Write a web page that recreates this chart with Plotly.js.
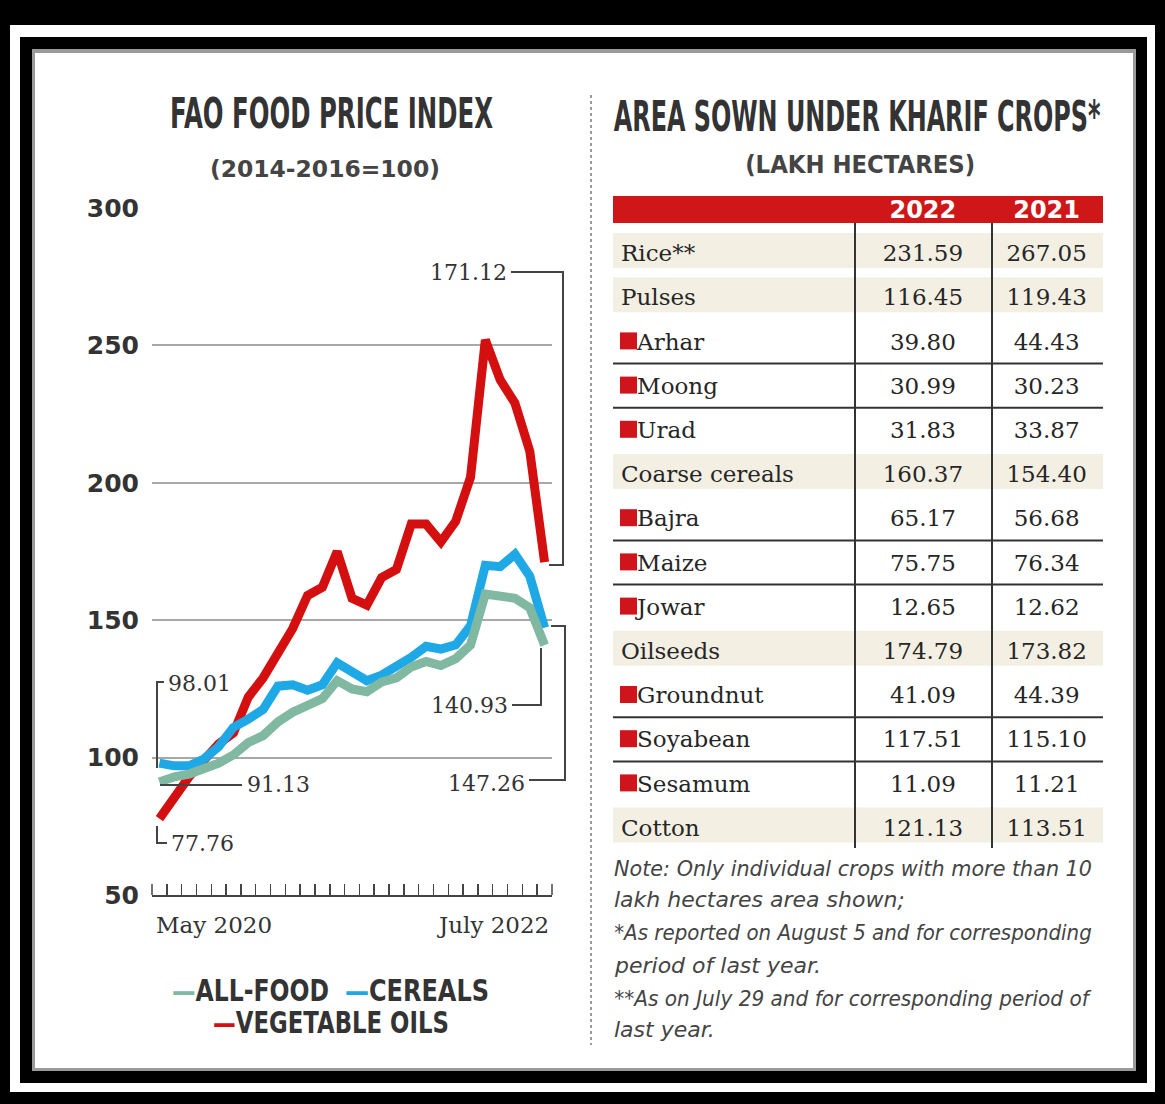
<!DOCTYPE html>
<html><head><meta charset="utf-8">
<script src="https://cdn.plot.ly/plotly-3.0.1.min.js"></script>
<style>html,body{margin:0;padding:0;background:#fff}#chart{width:1165px;height:1104px}</style>
</head><body><div id="chart"></div>
<script>
// ---------------- DATA ----------------
const months = ['May 2020','June 2020','July 2020','August 2020','September 2020','October 2020','November 2020','December 2020',
  'January 2021','February 2021','March 2021','April 2021','May 2021','June 2021','July 2021','August 2021','September 2021',
  'October 2021','November 2021','December 2021','January 2022','February 2022','March 2022','April 2022','May 2022','June 2022','July 2022'];
const allFood = [91.13,93,94,96,98,101,105.5,108,113,116.5,119,121.5,128,125,124,127.5,129,133,135,133.5,136,141,159.5,158.5,158,154.5,140.93];
const cereals = [98.01,97,97,99.5,104,111,114,117.5,126,126.5,124.5,126.5,134.5,131.5,128,130,133,136.5,140.5,139.5,141,148,170,169.5,174,166,147.26];
const vegOils = [77.76,86,93,99,105,109,122,129,138,147,159,162,175,158,155.5,165.5,168.5,185,185,178.5,186,202,252,237.5,229,211.5,171.12];
const yTicks = [50,100,150,200,250,300];

const crops = ['Rice**','Pulses','Arhar','Moong','Urad','Coarse cereals','Bajra','Maize','Jowar','Oilseeds','Groundnut','Soyabean','Sesamum','Cotton'];
const cropIsSub = [false,false,true,true,true,false,true,true,true,false,true,true,true,false];
const area2022 = [231.59,116.45,39.80,30.99,31.83,160.37,65.17,75.75,12.65,174.79,41.09,117.51,11.09,121.13];
const area2021 = [267.05,119.43,44.43,30.23,33.87,154.40,56.68,76.34,12.62,173.82,44.39,115.10,11.21,113.51];
const yearHeads = ['2022','2021'];

const notes = ['Note: Only individual crops with more than 10','lakh hectares area shown;',
  '*As reported on August 5 and for corresponding','period of last year.',
  '**As on July 29 and for corresponding period of','last year.'];

// ---------------- HELPERS ----------------
const W = 1165, H = 1104;
const px = x => x / W, py = y => 1 - y / H;
const RED = '#d40f10', BLUE = '#1fa8e6', TEAL = '#80b8a2', TXT = '#333333';
const serif = 'DejaVu Serif, Liberation Serif, serif';
const sans = 'DejaVu Sans, sans-serif';

const shapes = [];
const annotations = [];
const fits = [];
function rect(x0,y0,x1,y1,fill,layer){shapes.push({type:'rect',xref:'paper',yref:'paper',x0:px(x0),x1:px(x1),y0:py(y1),y1:py(y0),fillcolor:fill,line:{width:0},layer:layer||'below'});}
function poly(pts,color,width,dash){
  const d = pts.map((p,i)=>(i?'L':'M')+px(p[0])+','+py(p[1])).join(' ');
  shapes.push({type:'path',xref:'paper',yref:'paper',path:d,line:{color:color,width:width,dash:dash||'solid'},layer:'above'});
}
function label(text,x,y,xanchor,font,fitW){
  annotations.push({text:text,xref:'paper',yref:'paper',x:px(x),y:py(y),xanchor:xanchor,yanchor:'middle',showarrow:false,font:font});
  if(fitW) fits.push({i:annotations.length-1,w:fitW,a:xanchor});
}

// frame
rect(0,0,W,H,'#000000');
rect(10,25,1155,1092,'#ffffff');
rect(20,37,1147,1083,'#000000');
rect(32,49,1136,1071,'#9a9a9a');
rect(35,53,1133,1068,'#ffffff');
// separator
poly([[591,95],[591,1045]],'#9a9a9a',2,'dot');

// titles (condensed to the reference widths)
label('FAO FOOD PRICE INDEX',331,113,'center',{family:sans,size:43,color:TXT,weight:'bold'},323);
label('(2014-2016=100)',325,169,'center',{family:sans,size:23,color:'#444',weight:'bold'},230);
label('AREA SOWN UNDER KHARIF CROPS*',857,116,'center',{family:sans,size:43,color:TXT,weight:'bold'},487);
label('(LAKH HECTARES)',860,165,'center',{family:sans,size:25,color:'#444',weight:'bold'},230);

// x labels
label(months[0],154,925,'left',{family:serif,size:23,color:TXT});
label(months[months.length-1],551,925,'right',{family:serif,size:23,color:TXT});
// end ticks of the month axis
poly([[152,884],[152,895]],'#444',1.5);
poly([[552,884],[552,895]],'#444',1.5);

// value callouts
const lastI = months.length-1;
label(vegOils[lastI].toFixed(2),509,272,'right',{family:serif,size:22,color:TXT});
poly([[511,272],[563,272],[563,565],[549,565]],'#444',2);
label(allFood[lastI].toFixed(2),510,705,'right',{family:serif,size:22,color:TXT});
poly([[512,705],[541,705],[541,648]],'#444',2);
label(cereals[lastI].toFixed(2),527,783,'right',{family:serif,size:22,color:TXT});
poly([[529,780],[565,780],[565,626],[551,626]],'#444',2);
label(cereals[0].toFixed(2),166,683,'left',{family:serif,size:22,color:TXT});
poly([[164,682],[157,682],[157,768]],'#444',2);
label(allFood[0].toFixed(2),245,784,'left',{family:serif,size:22,color:TXT});
poly([[160,785],[242,785]],'#444',2);
label(vegOils[0].toFixed(2),169,843,'left',{family:serif,size:22,color:TXT});
poly([[157,826],[157,843],[167,843]],'#444',2);

// legend
const legFont = {family:sans,size:30,color:TXT,weight:'bold'};
label('<span style="color:'+TEAL+'">—</span>ALL-FOOD',170,990,'left',legFont,157);
label('<span style="color:'+BLUE+'">—</span>CEREALS',343,990,'left',legFont,144);
label('<span style="color:'+RED+'">—</span>VEGETABLE OILS',211,1022,'left',legFont,236);

// table decorations
const tX0 = 613, tX1 = 1103, c1 = 855, c2 = 992, rowTop = 231, rowH = 44.2;
rect(tX0,196,tX1,223,'#cf1619');
crops.forEach((c,k)=>{
  const t = rowTop+rowH*k;
  if(!cropIsSub[k]) rect(tX0,t+2,tX1,t+37,'#f3efe3');
  else rect(620,t+13,637,t+30,'#d0141c');
});
for(let k=0;k<crops.length-1;k++){ if(cropIsSub[k]&&cropIsSub[k+1]){ const yy=rowTop+rowH*(k+1); poly([[tX0,yy],[tX1,yy]],'#333',2);} }
poly([[c1,223],[c1,848]],'#333',2);
poly([[c2,223],[c2,848]],'#333',2);

// notes
notes.forEach((n,i)=>label('<i>'+n+'</i>',612,[868,899,932,965,998,1029][i],'left',{family:sans,size:22,color:'#444'},i%2===0?478:null));

// ---------------- TRACES ----------------
const lineTrace = (name,y,color)=>({type:'scatter',mode:'lines',name:name,x:months,y:y,line:{color:color,width:9,shape:'linear'},xaxis:'x',yaxis:'y'});
const traces = [
  lineTrace('VEGETABLE OILS',vegOils,RED),
  lineTrace('CEREALS',cereals,BLUE),
  lineTrace('ALL-FOOD',allFood,TEAL),
  {type:'table',domain:{x:[px(tX0),px(tX1)],y:[py(850),py(192)]},columnwidth:[242,137,111],
   header:{values:[''].concat(yearHeads),height:44,align:['left','center','center'],
     fill:{color:'rgba(0,0,0,0)'},line:{width:0},font:{family:sans,size:24,color:'#ffffff',weight:'bold'}},
   cells:{values:[
       crops.map((c,k)=>cropIsSub[k]?'\u2002\u2009'+c:c),
       area2022.map(v=>v.toFixed(2)),
       area2021.map(v=>v.toFixed(2))],
     height:rowH,align:['left','center','center'],fill:{color:'rgba(0,0,0,0)'},line:{width:0},
     font:{family:serif,size:23,color:'#262626'}}}
];

const layout = {
  width:W,height:H,margin:{l:0,r:0,t:0,b:0},paper_bgcolor:'#ffffff',plot_bgcolor:'rgba(0,0,0,0)',
  showlegend:false,
  xaxis:{type:'category',domain:[px(152),px(552)],range:[-0.5,26.5],tickmode:'linear',tick0:0,dtick:1,tickson:'boundaries',ticks:'inside',ticklen:11,tickwidth:1.5,tickcolor:'#444',
    showline:true,linecolor:'#444',linewidth:2,showticklabels:false,showgrid:false,zeroline:false,anchor:'y',fixedrange:true},
  yaxis:{domain:[py(895),py(208)],range:[50,300],tickvals:yTicks,showgrid:true,gridcolor:'#a8a8a8',gridwidth:2,zeroline:false,
    showline:false,ticks:'',ticklabelstandoff:12,tickfont:{family:sans,size:25,color:TXT,weight:'bold'},anchor:'x',fixedrange:true},
  shapes:shapes,annotations:annotations
};
Plotly.newPlot('chart',traces,layout,{displayModeBar:false,staticPlot:true}).then(gd=>{
  fits.forEach(f=>{
    const el = gd.querySelector('g.annotation[data-index="'+f.i+'"] text.annotation-text');
    if(!el) return;
    const b = el.getBBox();
    if(!b.width) return;
    const s = Math.min(1.15, f.w / b.width);
    const ox = f.a==='left' ? b.x : (f.a==='right' ? b.x+b.width : b.x+b.width/2);
    const prev = el.getAttribute('transform')||'';
    el.setAttribute('transform', prev+' translate('+ox+',0) scale('+s+',1) translate('+(-ox)+',0)');
  });
});
</script></body></html>
